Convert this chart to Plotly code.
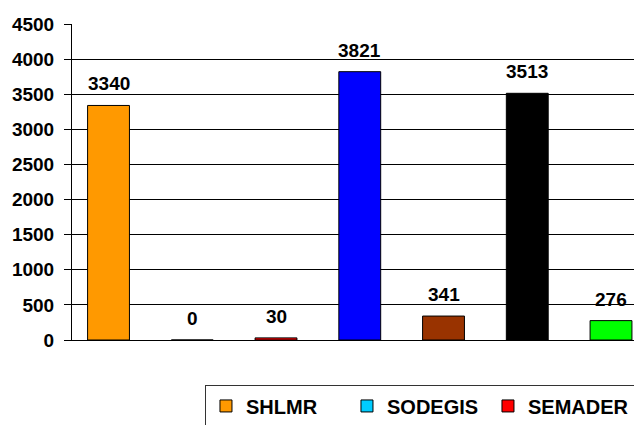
import plotly.graph_objects as go

series = ["SHLMR", "SODEGIS", "SEMADER", "Serie 4", "Serie 5", "Serie 6", "Serie 7"]
values = [3340, 0, 30, 3821, 341, 3513, 276]
colors = ["#FF9900", "#00CCFF", "#FF0000", "#0000FF", "#993300", "#000000", "#00FF00"]
y_ticks = [0, 500, 1000, 1500, 2000, 2500, 3000, 3500, 4000, 4500]

fig = go.Figure()

for name, val, col in zip(series, values, colors):
    fig.add_trace(go.Bar(
        x=[name],
        y=[val],
        name=name,
        marker=dict(color=col, line=dict(color="#000000", width=1)),
    ))

# value labels above each bar
for name, val in zip(series, values):
    fig.add_annotation(
        x=name, y=val, text=str(val),
        showarrow=False, yanchor="bottom", yshift=9,
        font=dict(size=19, color="#000000", weight="bold"),
    )

# page body has an 8px margin, so the figure is a bit smaller than the window
fig.update_layout(
    width=634,
    height=417,
    margin=dict(l=64, r=0, t=16, b=84.5, autoexpand=False),
    paper_bgcolor="white",
    plot_bgcolor="white",
    barmode="overlay",
    bargap=0.5,
    font=dict(family="Liberation Sans, Arial, sans-serif", size=19, color="#000000", weight="bold"),
    legend=dict(
        orientation="h",
        x=0.2333, xanchor="left",
        y=-0.1438, yanchor="top",
        bordercolor="#333333", borderwidth=1,
        bgcolor="white",
        entrywidth=96,
        font=dict(size=20, weight="bold"),
        traceorder="normal",
    ),
    showlegend=True,
)

fig.update_xaxes(
    range=[-0.436, 6.37],
    showticklabels=False,
    ticks="",
    showgrid=False,
    showline=True, linecolor="#000000", linewidth=1,
)

fig.update_yaxes(
    range=[0, 4500],
    tickvals=y_ticks,
    showgrid=True, gridcolor="#000000", gridwidth=1,
    showline=True, linecolor="#000000", linewidth=1,
    ticks="outside", ticklen=7, tickcolor="#000000",
    ticklabelstandoff=6,
    zeroline=False,
)

fig.write_html("out.html")
